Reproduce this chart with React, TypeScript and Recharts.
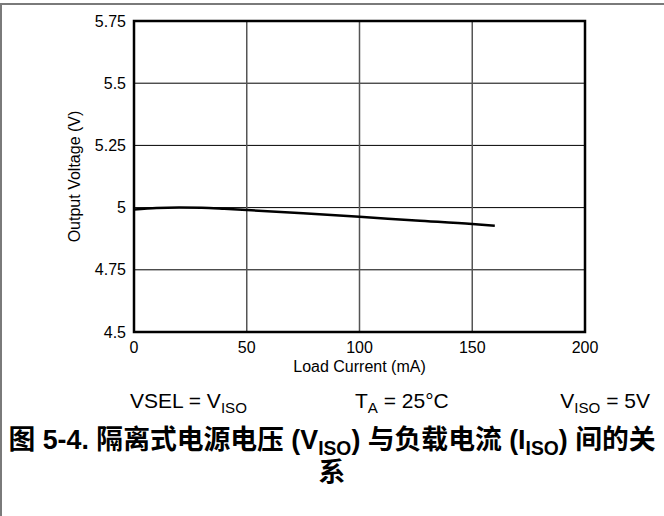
import React from 'react';
import { LineChart, Line, XAxis, YAxis, CartesianGrid, ReferenceArea } from 'recharts';

const loadCurrent = [0, 10, 20, 30, 40, 50, 75, 100, 125, 150, 160];
const outputVoltage = [4.992, 4.998, 5.0, 4.999, 4.995, 4.99, 4.977, 4.963, 4.948, 4.934, 4.927];
const xTicks = [0, 50, 100, 150, 200];
const yTicks = [4.5, 4.75, 5, 5.25, 5.5, 5.75];

const data = loadCurrent.map((x, i) => ({ x, v: outputVoltage[i] }));

const LATIN = '"Liberation Sans", Arial, sans-serif';
const CAPTION_FONT = '"Liberation Sans", Arial, "Noto Sans CJK SC", sans-serif';

const Sub: React.FC<{ children: React.ReactNode }> = ({ children }) => (
  <span style={{ fontSize: '0.72em', position: 'relative', top: '0.32em' }}>{children}</span>
);

export default function App() {
  return (
    <div style={{ position: 'absolute', left: 0, top: 0, width: 664, height: 516, background: '#fff', overflow: 'hidden' }}>
      <div
        style={{
          position: 'absolute',
          left: 0,
          top: 3,
          width: 670,
          height: 520,
          borderTop: '2px solid #7a7a7a',
          borderLeft: '2px solid #7a7a7a',
          boxSizing: 'border-box',
        }}
      />
      <div style={{ position: 'absolute', left: 0, top: 0 }}>
        <LineChart width={664} height={400} data={data} margin={{ top: 21, right: 79, bottom: 0, left: 0 }}>
          <CartesianGrid horizontal={true} vertical={false} stroke="#000" strokeWidth={1} />
          <CartesianGrid horizontal={false} vertical={true} stroke="#555" strokeWidth={1.5} />
          <XAxis
            dataKey="x"
            type="number"
            domain={[0, 200]}
            ticks={xTicks}
            height={68}
            tickSize={0}
            tickMargin={10}
            axisLine={false}
            tickLine={false}
            tick={{ fontSize: 16, fill: '#000', fontFamily: LATIN }}
            label={{ value: 'Load Current (mA)', position: 'insideTop', offset: 29, fontSize: 16, fill: '#000', fontFamily: LATIN }}
          />
          <YAxis
            type="number"
            domain={[4.5, 5.75]}
            ticks={yTicks}
            width={134}
            tickSize={0}
            tickMargin={8}
            axisLine={false}
            tickLine={false}
            tick={{ fontSize: 16, fill: '#000', fontFamily: LATIN }}
            label={{ value: 'Output Voltage (V)', angle: -90, position: 'center', dx: 7, fontSize: 16, fill: '#000', fontFamily: LATIN }}
          />
          <Line type="monotone" dataKey="v" stroke="#000" strokeWidth={2.5} dot={false} isAnimationActive={false} />
          <ReferenceArea x1={0} x2={200} y1={4.5} y2={5.75} fill="none" stroke="#000" strokeWidth={2.5} />
        </LineChart>
      </div>
      <div style={{ position: 'absolute', left: 130, top: 388, fontFamily: LATIN, fontSize: 21, lineHeight: '26px', whiteSpace: 'nowrap' }}>
        VSEL = V<Sub>ISO</Sub>
      </div>
      <div style={{ position: 'absolute', left: 355, top: 388, fontFamily: LATIN, fontSize: 21, lineHeight: '26px', whiteSpace: 'nowrap' }}>
        T<Sub>A</Sub> = 25°C
      </div>
      <div style={{ position: 'absolute', right: 14, top: 388, fontFamily: LATIN, fontSize: 21, lineHeight: '26px', whiteSpace: 'nowrap' }}>
        V<Sub>ISO</Sub> = 5V
      </div>
      <div
        style={{
          position: 'absolute',
          left: 0,
          top: 425,
          width: 664,
          textAlign: 'center',
          fontFamily: CAPTION_FONT,
          fontWeight: 'bold',
          fontSize: 26.8,
          lineHeight: '31px',
          whiteSpace: 'nowrap',
        }}
      >
        <div>
          图 5-4. 隔离式电源电压 (V<Sub>ISO</Sub>) 与负载电流 (I<Sub>ISO</Sub>) 间的关
        </div>
        <div>系</div>
      </div>
    </div>
  );
}
